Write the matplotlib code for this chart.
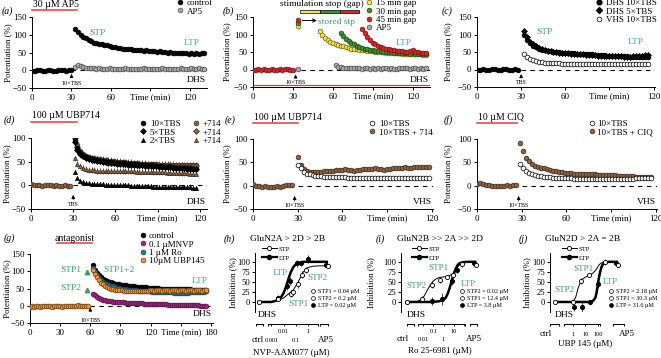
import numpy as np
import matplotlib
matplotlib.use('Agg')
import matplotlib.pyplot as plt
from matplotlib.lines import Line2D

# ---------------- datos ----------------
# (a) control vs AP5, tiempos cada 2 min
a_base = [-2, -1, 0, 1, -2, -3, 0, 1, -1, -3, 0, 2, 1, -1, 2, 0]
a_control = [115, 108, 100, 95, 90, 86, 82, 78, 76, 74, 73, 71, 70, 68, 66, 65, 63, 62, 61, 60,
             59, 60, 58, 57, 58, 56, 55, 56, 54, 53, 54, 52, 53, 51, 52, 50, 51, 50, 49, 50,
             48, 49, 48, 47, 48, 47, 49, 47, 49, 50]
a_ap5 = [10, 14, 12, 9, 7, 6, 5, 5, 4, 5, 4, 4, 3, 5, 4, 3, 4, 3, 4, 5, 3, 4, 3, 4, 3, 4, 5, 4, 3, 4,
         3, 4, 4, 5, 4, 3, 4, 3, 4, 4, 5, 4, 3, 4, 5, 4, 4, 5, 4, 3]

# (b) pausas de estimulacion
b_base = [0, -2, 1, -1, 2, 0, -1, 1, -2, 0, 1, -1, 2, 1, -1, 0]
b_guardado = [125, 132, 140]          # stp guardado: 15, 30, 45 min
b_ap5_guardado = 2
b_gap15 = [110, 98, 90, 84, 80, 76, 73, 70, 68, 66, 64, 62, 60, 59, 58, 57, 56, 55, 54, 53,
           52, 51, 50, 50, 49, 48, 48, 47, 47, 46, 46, 45, 45, 45, 44, 44, 44, 43, 43, 42, 42]
b_gap30 = [105, 95, 88, 82, 77, 72, 68, 65, 62, 60, 58, 56, 55, 54, 53, 52, 51, 50, 50, 49,
           48, 48, 47, 47, 46, 46, 45, 46, 45, 44, 45, 44, 44]
b_gap45 = [115, 103, 92, 84, 77, 72, 68, 64, 62, 60, 58, 56, 55, 54, 53, 52, 51, 50, 52, 55,
           50, 49, 48, 47, 47]
b_ap5 = [12, 8, 6, 5, 5, 4, 4, 3, 4, 3, 2, 4, 3, 2, 3, 2, 3, 2, 3, 4, 2, 3, 1, 2, 3, 4, 5, 3, 2, 4,
         3, 2, 3, 2, 3]
b_pausas = [(35, 15), (50, 15), (65, 15)]

# (c) DHS vs VHS
c_base = [-1, 0, 1, -1, 0, 2, 1, -1, 0, 1, 2, 0, -1, 1, 0]
c_dhs10 = [100, 85, 75, 68, 63, 60, 57, 55, 53, 52, 51, 50, 49, 48, 48, 47, 46, 46, 45, 45,
           44, 44, 43, 43, 42, 42, 41, 41, 40, 40, 40, 39, 39, 38, 38, 38, 37, 37, 37, 36, 36, 36, 35]
c_dhs5 = [110, 92, 80, 72, 66, 62, 58, 56, 54, 52, 50, 49, 48, 47, 46, 46, 45, 44, 44, 43,
          43, 42, 42, 41, 41, 40, 40, 40, 39, 39, 39, 38, 38, 38, 37, 37, 37, 38, 39, 40, 40, 41, 42]
c_vhs10 = [45, 36, 30, 26, 24, 22, 21, 20, 19, 19, 18, 18, 18, 17, 17, 17, 17, 17, 16, 16,
           16, 16, 16, 16, 15, 15, 15, 15, 15, 15, 15, 15, 15, 15, 15, 15, 16, 16, 16, 16, 16, 16, 16]

# (d) UBP714 en DHS
d_base = [2, 1, 0, 1, -1, 0, 1, 0, -1, 0, -2, -1, 0, -1, -2]
d_10 = [95, 78, 68, 62, 59, 57, 55, 54, 53, 52, 51, 50, 50, 49, 48, 48, 47, 47, 46, 46,
        45, 45, 44, 44, 43, 43, 42, 42, 41, 41, 40, 40, 39, 39, 38, 38, 37, 37, 37, 36, 36, 36, 35, 35]
d_10_714 = [110, 85, 72, 66, 62, 60, 58, 57, 56, 55, 54, 53, 52, 52, 51, 50, 50, 49, 49, 48,
            48, 47, 47, 46, 46, 46, 45, 45, 45, 45, 44, 44, 44, 44, 44, 44, 43, 43, 43, 43, 43, 43, 43, 43]
d_5 = [92, 75, 66, 61, 58, 56, 54, 53, 52, 51, 50, 49, 48, 48, 47, 46, 46, 45, 45, 44,
       44, 43, 43, 42, 42, 41, 41, 40, 40, 40, 39, 39, 38, 38, 38, 37, 37, 36, 36, 36, 35, 35, 35, 35]
d_5_714 = [100, 80, 70, 64, 60, 58, 56, 55, 54, 53, 52, 51, 50, 50, 49, 48, 48, 47, 47, 46,
           46, 45, 45, 44, 44, 44, 43, 43, 43, 42, 42, 42, 42, 42, 41, 41, 41, 41, 41, 41, 41, 41, 41, 41]
d_2 = [28, 15, 10, 7, 5, 4, 3, 3, 2, 2, 2, 1, 1, 1, 1, 0, 0, 0, 0, 0,
       -1, -1, -1, -1, -2, -2, -2, -2, -3, -3, -3, -3, -4, -4, -4, -4, -4, -4, -4, -3, -4, -4, -5, -5]
d_2_714 = [57, 45, 40, 36, 34, 33, 32, 32, 31, 31, 31, 30, 30, 30, 30, 30, 30, 30, 30, 30,
           30, 30, 29, 29, 29, 29, 29, 29, 28, 28, 28, 28, 28, 27, 27, 27, 27, 26, 26, 26, 26, 25, 25, 25]

# (e) UBP714 en VHS
e_base = [3, 0, -1, -2, -1, -2, -3, -2, -1, -2, 0, 1, 2, 1]
e_10 = [45, 38, 30, 26, 24, 22, 21, 20, 20, 19, 19, 18, 18, 18, 18, 18, 18, 17, 17, 17,
        17, 16, 16, 16, 16, 16, 16, 16, 16, 16, 16, 16, 16, 16, 16, 17, 17, 17, 17, 17, 17, 16, 16, 16, 16]
e_714 = [62, 45, 35, 32, 30, 29, 29, 30, 30, 31, 31, 32, 32, 33, 34, 34, 35, 34, 33, 32,
         33, 34, 35, 35, 36, 36, 37, 36, 35, 34, 35, 36, 37, 37, 38, 38, 39, 38, 38, 39, 39, 40, 40, 39, 40]

# (f) CIQ en VHS
f_base = [4, 5, 3, 2, 1, 0, -1, 0, -1, 0, 1, 0, 1, 2]
f_10 = [47, 38, 32, 28, 25, 23, 21, 20, 19, 18, 18, 17, 17, 17, 16, 16, 16, 16, 15, 15,
        15, 15, 15, 15, 15, 15, 15, 15, 15, 15, 15, 15, 15, 15, 15, 15, 15, 15, 15, 16, 16, 16, 16, 16, 16]
f_ciq = [92, 75, 60, 52, 46, 42, 40, 38, 37, 35, 34, 32, 31, 30, 29, 28, 27, 27, 26, 26,
         25, 25, 25, 24, 24, 24, 23, 23, 23, 22, 22, 22, 22, 21, 21, 21, 20, 20, 20, 19, 19, 19, 18, 18, 18]

# (g) antagonistas
g_base = [-3, -2, -4, -1, -2, -3, -1, -2, 0, -1, -2, -3, -1, 0, -2, -1, -3, -2, -1, 0,
          -1, -2, -1, 0, 1, -1, 0, -1, 0, -1]
g_control = [118, 105, 95, 88, 82, 78, 75, 72, 70, 68, 66, 64, 63, 62, 61, 60, 59, 58, 57, 56,
             56, 55, 55, 54, 54, 53, 53, 52, 52, 52, 51, 51, 51, 50, 50, 50, 50, 49, 49, 49,
             49, 49, 48, 48, 48, 48, 48, 48, 48, 47, 47, 47, 47, 47, 47, 47, 47]
g_nvp = [35, 30, 26, 23, 20, 18, 16, 15, 14, 13, 12, 12, 11, 11, 10, 10, 9, 9, 9, 8,
         8, 8, 7, 7, 7, 6, 6, 6, 6, 5, 5, 5, 5, 4, 4, 4, 4, 3, 3, 3,
         3, 3, 2, 2, 2, 2, 2, 2, 1, 1, 1, 1, 1, 0, 0, 0, 0]
g_ro = [110, 98, 88, 80, 74, 70, 66, 63, 60, 58, 56, 54, 52, 51, 50, 49, 48, 47, 46, 46,
        45, 45, 44, 44, 43, 43, 42, 42, 42, 41, 41, 41, 40, 40, 40, 40, 39, 39, 39, 39,
        38, 38, 38, 38, 38, 38, 38, 38, 39, 39, 39, 40, 40, 40, 41, 41, 42]
g_ubp = [105, 92, 82, 74, 67, 62, 58, 55, 52, 50, 48, 47, 46, 45, 45, 44, 44, 43, 43, 43,
         42, 42, 42, 43, 43, 44, 44, 44, 45, 45, 44, 45, 46, 45, 44, 45, 46, 45, 44, 45,
         46, 45, 44, 45, 46, 45, 44, 45, 46, 45, 44, 45, 46, 45, 44, 45, 46]
g_stp_marcas = [97, 45]   # STP1, STP2

# (h)-(j) curvas dosis-respuesta (x = log10 de la concentracion en uM)
h_stp_x = [-2.43, -1.39, -1.19, -0.78, -0.51, -0.16]
h_stp_y = [8, 21, 25, 45, 68, 80]
h_stp_e = [6, 8, 8, 10, 8, 8]
h_ltp_x = [-2.43, -1.74, -1.47, -0.92, -0.57, -0.02]
h_ltp_y = [11, 40, 52, 96, 96, 107]
h_ltp_e = [6, 10, 10, 8, 6, 10]
h_ap5 = [90, 93]
h_fit_x = [-4.05, -3.0, -2.5, -2.2, -2.0, -1.8, -1.6, -1.4, -1.2, -1.0, -0.8, -0.6, -0.4, -0.2, 0.0, 0.4, 0.9, 1.54]
h_fit_ltp = [0, 0, 4, 12, 22, 38, 58, 75, 87, 94, 97, 99, 100, 100, 100, 100, 100, 100]
h_fit_stp = [0, 0, 3, 7, 10, 15, 20, 25, 30, 40, 50, 63, 74, 82, 86, 89, 90, 90]
h_ic50 = ['STP1 = 0.04 µM', 'STP2 = 0.2 µM', 'LTP = 0.02 µM']

i_stp_x = [-2.12, -1.15, -0.3, 0.31, 0.97, 1.77]
i_stp_y = [8, 43, 55, 62, 68, 95]
i_stp_e = [8, 8, 8, 6, 8, 8]
i_ltp_x = [-1.15, -0.17, 0.8, 1.28]
i_ltp_y = [3, 8, 52, 79]
i_ltp_e = [10, 15, 10, 8]
i_ap5 = [92, 96]
i_fit_x = [-3.57, -2.6, -2.2, -1.9, -1.6, -1.3, -1.0, -0.7, -0.4, -0.1, 0.2, 0.4, 0.6, 0.8, 1.0,
           1.2, 1.4, 1.6, 1.9, 2.3, 3.06]
i_fit_stp = [0, 1, 5, 14, 28, 42, 52, 58, 61, 62, 63, 64, 66, 69, 73, 80, 88, 94, 98, 100, 100]
i_fit_ltp = [0, 0, 0, 0, 0, 0, 0, 1, 2, 4, 10, 20, 35, 53, 70, 84, 93, 97, 99, 100, 100]
i_ic50 = ['STP2 = 0.02 µM', 'STP1 = 12.4 µM', 'LTP = 3.8 µM']

j_stp_x = [0.0, 0.65, 1.3, 2.62]
j_stp_y = [1, 52, 67, 100]
j_stp_e = [5, 8, 6, 8]
j_ltp_x = [0.05, 0.68, 1.4, 2.0]
j_ltp_y = [-12, -12, 0, 46]
j_ltp_e = [10, 12, 6, 10]
j_ap5 = [92, 96]
j_fit_x = [-1.5, -0.3, 0.0, 0.2, 0.4, 0.6, 0.8, 1.0, 1.3, 1.6, 1.8, 1.9, 2.0, 2.1, 2.2, 2.3, 2.4, 2.6, 2.9, 3.56]
j_fit_stp = [0, 0, 2, 12, 35, 50, 58, 62, 66, 72, 78, 82, 87, 92, 95, 97, 99, 100, 100, 100]
j_fit_ltp = [0, 0, 0, 0, 0, 0, 0, 0, 0, 2, 10, 22, 42, 60, 75, 86, 93, 98, 100, 100]
j_ic50 = ['STP2 = 2.18 µM', 'STP1 = 30.3 µM', 'LTP = 31.6 µM']

# ---------------- estilo ----------------
plt.rcParams['font.family'] = ['Liberation Serif', 'DejaVu Serif']
plt.rcParams['font.size'] = 6.5
plt.rcParams['axes.linewidth'] = 0.7
for eje in ('xtick', 'ytick'):
    plt.rcParams[eje + '.major.size'] = 2.5
    plt.rcParams[eje + '.major.width'] = 0.7
    plt.rcParams[eje + '.major.pad'] = 1.5
    plt.rcParams[eje + '.labelsize'] = 6.5
plt.rcParams['axes.labelsize'] = 6.4

NEGRO = ('black', 'black')
BLANCO = ('white', 'black')
GRIS = ('#a9a9a9', '#4a4a4a')
AMARILLO = ('#f2e64a', '#6e6212')
VERDE = ('#3f8f2f', '#1d4a18')
ROJO = ('#d8262a', '#761517')
MARRON = ('#8c6445', '#3e2a1a')
PURPURA = ('#a0287e', '#5a1045')
TEAL = ('#2a7f98', '#10404f')
NARANJA = ('#f0953a', '#6a3a10')
C_STP = '#3d9c6a'
C_LTP = '#35a6d6'
C_BARRA = '#e23b3b'

ANCHO, ALTO = 661, 358
fig = plt.figure(figsize=(ANCHO / 100, ALTO / 100), dpi=100)


def nuevo_eje(izq, arriba, der, abajo):
    ax = fig.add_axes([izq / ANCHO, 1 - abajo / ALTO, (der - izq) / ANCHO, (abajo - arriba) / ALTO])
    ax.spines[['top', 'right']].set_visible(False)
    ax.patch.set_alpha(0)
    return ax


def etiqueta_y(ax, texto, x_px):
    pos = ax.get_position()
    ax.set_ylabel(texto)
    ax.yaxis.set_label_coords(((x_px + 4.5) / ANCHO - pos.x0) / pos.width, 0.5)


def letra(texto, x, y):
    fig.text(x / ANCHO, 1 - y / ALTO, texto, style='italic', fontsize=7, va='center')


def serie(ax, t0, vals, colores, marker='o', ms=3.4, err=None, z=3, label=None):
    t = t0 + 2 * np.arange(len(vals))
    if err is not None:
        ax.errorbar(t, vals, yerr=err, fmt='none', ecolor=colores[1], elinewidth=0.5, zorder=z - 0.1)
    return ax.plot(t, vals, ls='none', marker=marker, ms=ms, mfc=colores[0], mec=colores[1],
                   mew=0.5, zorder=z, label=label)[0]


def eje_tiempo(izq, arriba, der, abajo, xmax, ymin, ymax, x_cero, ylab_x, tmax=120):
    ax = nuevo_eje(izq, arriba, der, abajo)
    ax.set_xlim(0, xmax)
    ax.set_ylim(ymin, ymax)
    ax.set_yticks(np.arange(ymin, ymax + 1, 50))
    if tmax == 120:
        ax.set_xticks([0, 30, 60, 90, 120], ['0', '30', '60', 'Time (min)', '120'])
    else:
        ax.set_xticks([0, 30, 60, 90, 120, 150, 180], ['0', '30', '60', '90', '120', 'Time (min)', '180'])
    ax.axhline(0, xmin=x_cero / xmax, color='k', lw=0.8, ls=(0, (4, 4)), zorder=1)
    etiqueta_y(ax, 'Potentiation (%)', ylab_x)
    return ax


def flecha_tbs(ax, x, y_punta, y_texto, texto):
    ax.annotate('', xy=(x, y_punta), xytext=(x, y_punta - 10),
                arrowprops=dict(arrowstyle='-|>', color='k', lw=0.6, mutation_scale=5,
                                shrinkA=0, shrinkB=0))
    ax.text(x, y_texto, texto, ha='center', va='center', fontsize=4.3)


def barra_droga(ax, t0, t1, y_barra, y_texto, texto, centrar=False):
    tr = ax.get_xaxis_transform()
    ax.plot([t0, t1], [y_barra, y_barra], transform=tr, color=C_BARRA, lw=1.1, clip_on=False)
    x = (t0 + t1) / 2 if centrar else t0 + 0.5
    ax.text(x, y_texto, texto, transform=tr, ha='center' if centrar else 'left', va='center',
            fontsize=7, clip_on=False)


def leyenda(ax, handles, labels, x_px, y_px, fs=6.5, ncol=1, hl=0.8, sp=0.0, colsp=1.0, pad=0.4):
    return ax.legend(handles, labels, loc='upper left', bbox_to_anchor=(x_px / ANCHO, 1 - y_px / ALTO),
                     bbox_transform=fig.transFigure, frameon=False, borderpad=0, borderaxespad=0,
                     handlelength=hl, handletextpad=pad, labelspacing=sp, fontsize=fs, ncol=ncol,
                     columnspacing=colsp)


def zona(ax, texto, y):
    ax.text(0.995, y, texto, transform=ax.transAxes, ha='right', va='center', fontsize=6.8)


# ---------------- (a) ----------------
ax = eje_tiempo(32, 17, 207, 88, 133, -50, 150, 30, 8)
serie(ax, 33, a_ap5, GRIS, z=2)
serie(ax, 0, a_base, NEGRO)
serie(ax, 33, a_control, NEGRO)
h1 = Line2D([], [], ls='none', marker='o', ms=3.4, mfc=NEGRO[0], mec=NEGRO[1], mew=0.5)
h2 = Line2D([], [], ls='none', marker='o', ms=3.4, mfc=GRIS[0], mec=GRIS[1], mew=0.5)
leyenda(ax, [h1, h2], ['control', 'AP5'], 176, -1)
barra_droga(ax, 0, 34, 1.10, 1.18, '30 µM AP5')
flecha_tbs(ax, 30, -10, -36, '10×TBS')
ax.text(50, 106, 'STP', color=C_STP, ha='center', va='center', fontsize=6.8)
ax.text(121, 76, 'LTP', color=C_LTP, ha='center', va='center', fontsize=6.8)
zona(ax, 'DHS', 0.11)
letra('(a)', 2, 11)

# ---------------- (b) ----------------
ax = eje_tiempo(253, 17, 430, 87, 133, -50, 150, 36, 227)
ax.axhline(-45, color=C_BARRA, lw=0.9, zorder=1)
serie(ax, 50, b_gap15, AMARILLO, z=4)
serie(ax, 66, b_gap30, VERDE, z=5)
serie(ax, 82, b_gap45, ROJO, z=6)
serie(ax, 62, b_ap5, GRIS, z=3)
serie(ax, 0, b_base, ROJO)
for val, col in zip(b_guardado, [AMARILLO, VERDE, ROJO]):
    serie(ax, 34, [val], col, err=8, z=5)
serie(ax, 34, [b_ap5_guardado], GRIS)
ax.broken_barh(b_pausas, (160, 11), facecolors=[AMARILLO[0], VERDE[0], ROJO[0]],
               edgecolor='k', lw=0.5, clip_on=False)
ax.text(52, 188, 'stimulation stop (gap)', ha='center', va='center', fontsize=6.8, clip_on=False)
ax.annotate('', xy=(48, 140), xytext=(37, 140),
            arrowprops=dict(arrowstyle='->', color='k', lw=0.7, mutation_scale=6, shrinkA=0, shrinkB=0))
ax.text(49, 137, 'stored stp', color=C_STP, ha='left', va='center', fontsize=6.8)
hs = [Line2D([], [], ls='none', marker='o', ms=3.4, mfc=c[0], mec=c[1], mew=0.5)
      for c in (AMARILLO, VERDE, ROJO, GRIS)]
leyenda(ax, hs, ['15 min gap', '30 min gap', '45 min gap', 'AP5'], 365, -1)
flecha_tbs(ax, 32, -14, -37, '10×TBS')
ax.text(113, 76, 'LTP', color=C_LTP, ha='center', va='center', fontsize=6.8)
zona(ax, 'DHS', 0.1)
letra('(b)', 223, 11)

# ---------------- (c) ----------------
ax = eje_tiempo(477, 17, 655, 87, 121, -50, 150, 30, 448)
serie(ax, 0, c_base, NEGRO)
serie(ax, 32, c_dhs10, NEGRO, err=6)
serie(ax, 32, c_dhs5, NEGRO, marker='D', ms=3.0, err=7)
serie(ax, 32, c_vhs10, BLANCO, z=4, err=3)
hs = [Line2D([], [], ls='none', marker='o', ms=3.4, mfc='k', mec='k'),
      Line2D([], [], ls='none', marker='D', ms=3.0, mfc='k', mec='k'),
      Line2D([], [], ls='none', marker='o', ms=3.4, mfc='white', mec='k', mew=0.5)]
leyenda(ax, hs, ['DHS 10×TBS', 'DHS 5×TBS', 'VHS 10×TBS'], 595, -1)
flecha_tbs(ax, 30, -13, -37, 'TBS')
ax.text(46, 107, 'STP', color=C_STP, ha='center', va='center', fontsize=6.8)
ax.text(108, 79, 'LTP', color=C_LTP, ha='center', va='center', fontsize=6.8)
letra('(c)', 442, 11)

# ---------------- (d) ----------------
ax = eje_tiempo(31, 138, 207, 209, 125, -50, 100, 30, 7)
serie(ax, 31, d_10, NEGRO, err=6, z=4)
serie(ax, 31, d_5, NEGRO, marker='D', ms=3.0, err=6, z=4)
serie(ax, 31, d_2, NEGRO, marker='^', ms=3.0, err=4, z=4)
serie(ax, 31, d_10_714, MARRON, err=7, z=3)
serie(ax, 31, d_5_714, MARRON, marker='D', ms=3.0, err=7, z=3)
serie(ax, 31, d_2_714, MARRON, marker='^', ms=3.0, err=6, z=3)
serie(ax, 0, d_base, MARRON)
hs = [Line2D([], [], ls='none', marker=m, ms=s, mfc=c[0], mec=c[1], mew=0.5)
      for c in (NEGRO, MARRON) for m, s in (('o', 3.4), ('D', 3.0), ('^', 3.0))]
leyenda(ax, hs, ['10×TBS', '5×TBS', '2×TBS', '+714', '+714', '+714'], 139, 120, ncol=2, colsp=1.3)
barra_droga(ax, 0, 33, 1.225, 1.31, '100 µM UBP714')
flecha_tbs(ax, 30, -20, -40, 'TBS')
zona(ax, 'DHS', 0.1)
letra('(d)', 4, 120)

# ---------------- (e) ----------------
ax = eje_tiempo(253, 139, 433, 209, 121, -50, 100, 30, 227)
serie(ax, 0, e_base, MARRON)
serie(ax, 30, e_10, BLANCO, err=3, z=4)
serie(ax, 30, e_714, MARRON, err=4, z=3)
hs = [Line2D([], [], ls='none', marker='o', ms=3.4, mfc=c[0], mec=c[1], mew=0.5) for c in (BLANCO, MARRON)]
leyenda(ax, hs, ['10×TBS', '10×TBS + 714'], 368, 120)
barra_droga(ax, 0, 30, 1.225, 1.31, '100 µM UBP714')
flecha_tbs(ax, 28, -22, -42, '10×TBS')
zona(ax, 'VHS', 0.1)
letra('(e)', 225, 120)

# ---------------- (f) ----------------
ax = eje_tiempo(477, 139, 657, 209, 121, -50, 100, 30, 448)
serie(ax, 0, f_base, MARRON)
serie(ax, 29, f_10, BLANCO, err=3, z=4)
serie(ax, 29, f_ciq, MARRON, err=4, z=3)
hs = [Line2D([], [], ls='none', marker='o', ms=3.4, mfc=c[0], mec=c[1], mew=0.5) for c in (BLANCO, MARRON)]
leyenda(ax, hs, ['10×TBS', '10×TBS + CIQ'], 588, 120, pad=0.2)
barra_droga(ax, 0, 27, 1.225, 1.31, '10 µM CIQ')
flecha_tbs(ax, 28, -22, -42, '10×TBS')
zona(ax, 'VHS', 0.1)
letra('(f)', 444, 120)

# ---------------- (g) ----------------
ax = eje_tiempo(30, 254, 213, 323, 182, -50, 150, 60, 7, tmax=180)
serie(ax, 63, g_control, NEGRO, err=5, z=3)
serie(ax, 63, g_ro, TEAL, err=6, z=4)
serie(ax, 63, g_nvp, PURPURA, err=3, z=4)
serie(ax, 63, g_ubp, NARANJA, err=5, z=5)
serie(ax, 0, g_base, NARANJA, z=5)
ax.plot([57, 57], g_stp_marcas, ls='none', marker='^', ms=3.2, color=C_STP, zorder=5)
ax.text(41, 104, 'STP1', color=C_STP, ha='center', va='center', fontsize=6.8)
ax.text(41, 50, 'STP2', color=C_STP, ha='center', va='center', fontsize=6.8)
ax.text(89, 104, 'STP1+2', color=C_STP, ha='center', va='center', fontsize=6.8)
ax.text(169, 73, 'LTP', color=C_LTP, ha='center', va='center', fontsize=6.8)
hs = [Line2D([], [], ls='none', marker='o', ms=3.4, mfc=c[0], mec=c[1], mew=0.5)
      for c in (NEGRO, PURPURA, TEAL, NARANJA)]
leyenda(ax, hs, ['control', '0.1 µMNVP', '1 µM Ro', '10µM UBP145'], 139, 232, pad=0.3)
barra_droga(ax, 27, 62, 1.16, 1.23, 'antagonist', centrar=True)
flecha_tbs(ax, 60, -5, -42, '10×TBS')
zona(ax, 'DHS', 0.13)
letra('(g)', 4, 238)


# ---------------- (h)-(j) ----------------
def panel_dosis(izq, der, xlim, x_ctrl, x_ap5, stp, ltp, ap5, ajuste, ic50,
                segmentos, decadas, etiquetas, x_ctrl_lab, x_ap5_lab, y_ext, xlabel, x_xlabel, y_xlabel,
                ylab_x, ley_x, ic50_x):
    ax = nuevo_eje(izq, 253, der, 312)
    ax.set_xlim(*xlim)
    ax.set_ylim(-25, 122)
    ax.set_yticks([0, 25, 50, 75, 100])
    ax.tick_params(axis='y', labelsize=6.2, pad=1.2)
    ax.spines['bottom'].set_visible(False)
    ax.set_xticks([])
    etiqueta_y(ax, 'Inhibition (%)', ylab_x)
    fx, fstp, fltp = ajuste
    ax.plot(fx, fstp, color='k', lw=0.7, zorder=2)
    ax.plot(fx, fltp, color='k', lw=1.8, zorder=2)
    sx, sy, se = stp
    lx, ly, le = ltp
    kw = dict(fmt='o', ms=3.0, mec='k', ecolor='k', elinewidth=0.5, mew=0.6, zorder=4)
    ax.errorbar(lx, ly, yerr=le, mfc='k', **kw)
    ax.errorbar(sx, sy, yerr=se, mfc='white', **kw)
    ax.errorbar([x_ctrl], [0], yerr=[6], mfc='white', **kw)
    ax.errorbar([x_ap5], [ap5[1]], yerr=[3], mfc='k', **kw)
    ax.errorbar([x_ap5 + 0.15], [ap5[0]], yerr=[3], mfc='white', **kw)
    # eje x partido: ctrl | concentracion | AP5
    y0 = -55
    for x0, x1 in segmentos:
        ax.plot([x0, x1], [y0, y0], color='k', lw=0.7, clip_on=False)
        ax.vlines([x0, x1], y0, y0 - 5, color='k', lw=0.7, clip_on=False)
    ax.vlines(decadas, y0, y0 - 4, color='k', lw=0.6, clip_on=False)
    for x, y, s in etiquetas:
        ax.text(x, y, s, ha='center', va='center', fontsize=4.6, clip_on=False)
    ax.text(x_ctrl_lab, y_ext, 'ctrl', ha='center', va='center', fontsize=6.5, clip_on=False)
    ax.text(x_ap5_lab, y_ext, 'AP5', ha='center', va='center', fontsize=6.5, clip_on=False)
    ax.text(x_xlabel, y_xlabel, xlabel, ha='center', va='center', fontsize=6.5, clip_on=False)
    ax.text(x_ctrl - 0.05, -33, 'DHS', ha='left', va='center', fontsize=6.8, clip_on=False)
    h_stp = Line2D([], [], color='k', lw=0.7, marker='o', ms=3.0, mfc='white', mec='k', mew=0.6)
    h_ltp = Line2D([], [], color='k', lw=1.6, marker='o', ms=3.0, mfc='k', mec='k')
    ley = leyenda(ax, [h_stp, h_ltp], ['STP', 'LTP'], ley_x, 246, fs=4.8, hl=2.2, sp=0.5, pad=0.3)
    ax.add_artist(ley)
    hs = [Line2D([], [], ls='none', marker='o', ms=2.8, mfc=c, mec='k', mew=0.5) for c in ('white', 'white', 'k')]
    leyenda(ax, hs, ic50, ic50_x, 289, fs=4.4, hl=0.6, sp=0.25, pad=0.6)
    return ax


ax = panel_dosis(255, 330, (-4.34, 1.8), -4.05, 1.45, (h_stp_x, h_stp_y, h_stp_e),
                 (h_ltp_x, h_ltp_y, h_ltp_e), h_ap5, (h_fit_x, h_fit_stp, h_fit_ltp), h_ic50,
                 [(-4.25, -3.7), (-3.27, 0.83), (0.99, 1.65)], [-3, -2, -1, 0],
                 [(-2, -73, '0.01'), (0, -73, '1'), (-3, -95, '0.001'), (-1, -95, '0.1')],
                 -4.1, 1.5, -95, 'NVP-AAM077 (µM)', -1.4, -127, 233, 262, 311)
ax.text(-2.3, 72, 'LTP', color=C_LTP, ha='center', va='center', fontsize=6.6)
ax.text(0.8, 60, 'STP2', color=C_STP, ha='center', va='center', fontsize=6.6)
ax.text(-0.8, -5, 'STP1', color=C_STP, ha='center', va='center', fontsize=6.6)
letra('(h)', 224, 239)
fig.text(250 / ANCHO, 1 - 239 / ALTO, 'GluN2A > 2D > 2B', fontsize=6.8, va='center')

ax = panel_dosis(401, 478.5, (-4.13, 3.4), -3.57, 2.98, (i_stp_x, i_stp_y, i_stp_e),
                 (i_ltp_x, i_ltp_y, i_ltp_e), i_ap5, (i_fit_x, i_fit_stp, i_fit_ltp), i_ic50,
                 [(-3.57, -2.83), (-2.5, 2.09), (2.57, 3.22)], [-2, -1, 0, 1, 2],
                 [(-1, -73, '0.1'), (1, -73, '10'), (-2, -93, '0.01'), (0, -93, '1')],
                 -3.95, 2.96, -93, 'Ro 25-6981 (µM)', -0.34, -122, 371, 412, 460)
ax.text(-0.5, 85, 'STP1', color=C_STP, ha='center', va='center', fontsize=6.6)
ax.text(-2.6, 40, 'STP2', color=C_STP, ha='center', va='center', fontsize=6.6)
ax.text(2.4, 45, 'LTP', color=C_LTP, ha='center', va='center', fontsize=6.6)
letra('(i)', 376, 239)
fig.text(397 / ANCHO, 1 - 239 / ALTO, 'GluN2B >> 2A >> 2D', fontsize=6.8, va='center')

ax = panel_dosis(550, 626, (-1.91, 4.32), -1.5, 3.5, (j_stp_x, j_stp_y, j_stp_e),
                 (j_ltp_x, j_ltp_y, j_ltp_e), j_ap5, (j_fit_x, j_fit_stp, j_fit_ltp), j_ic50,
                 [(-1.91, -1.17), (-0.76, 2.19), (3.28, 4.18)], [0, 1, 2],
                 [(0, -80, '1'), (1, -80, '10'), (2, -80, '100')],
                 -2.3, 4.4, -80, 'UBP 145 (µM)', 0.96, -105, 527, 562, 609)
ax.text(0.8, 83, 'STP1', color=C_STP, ha='center', va='center', fontsize=6.6)
ax.text(-0.7, 30, 'STP2', color=C_STP, ha='center', va='center', fontsize=6.6)
ax.text(3.0, 50, 'LTP', color=C_LTP, ha='center', va='center', fontsize=6.6)
letra('(j)', 519, 239)
fig.text(545 / ANCHO, 1 - 239 / ALTO, 'GluN2D > 2A = 2B', fontsize=6.8, va='center')

fig.savefig('out.png', dpi=100)
